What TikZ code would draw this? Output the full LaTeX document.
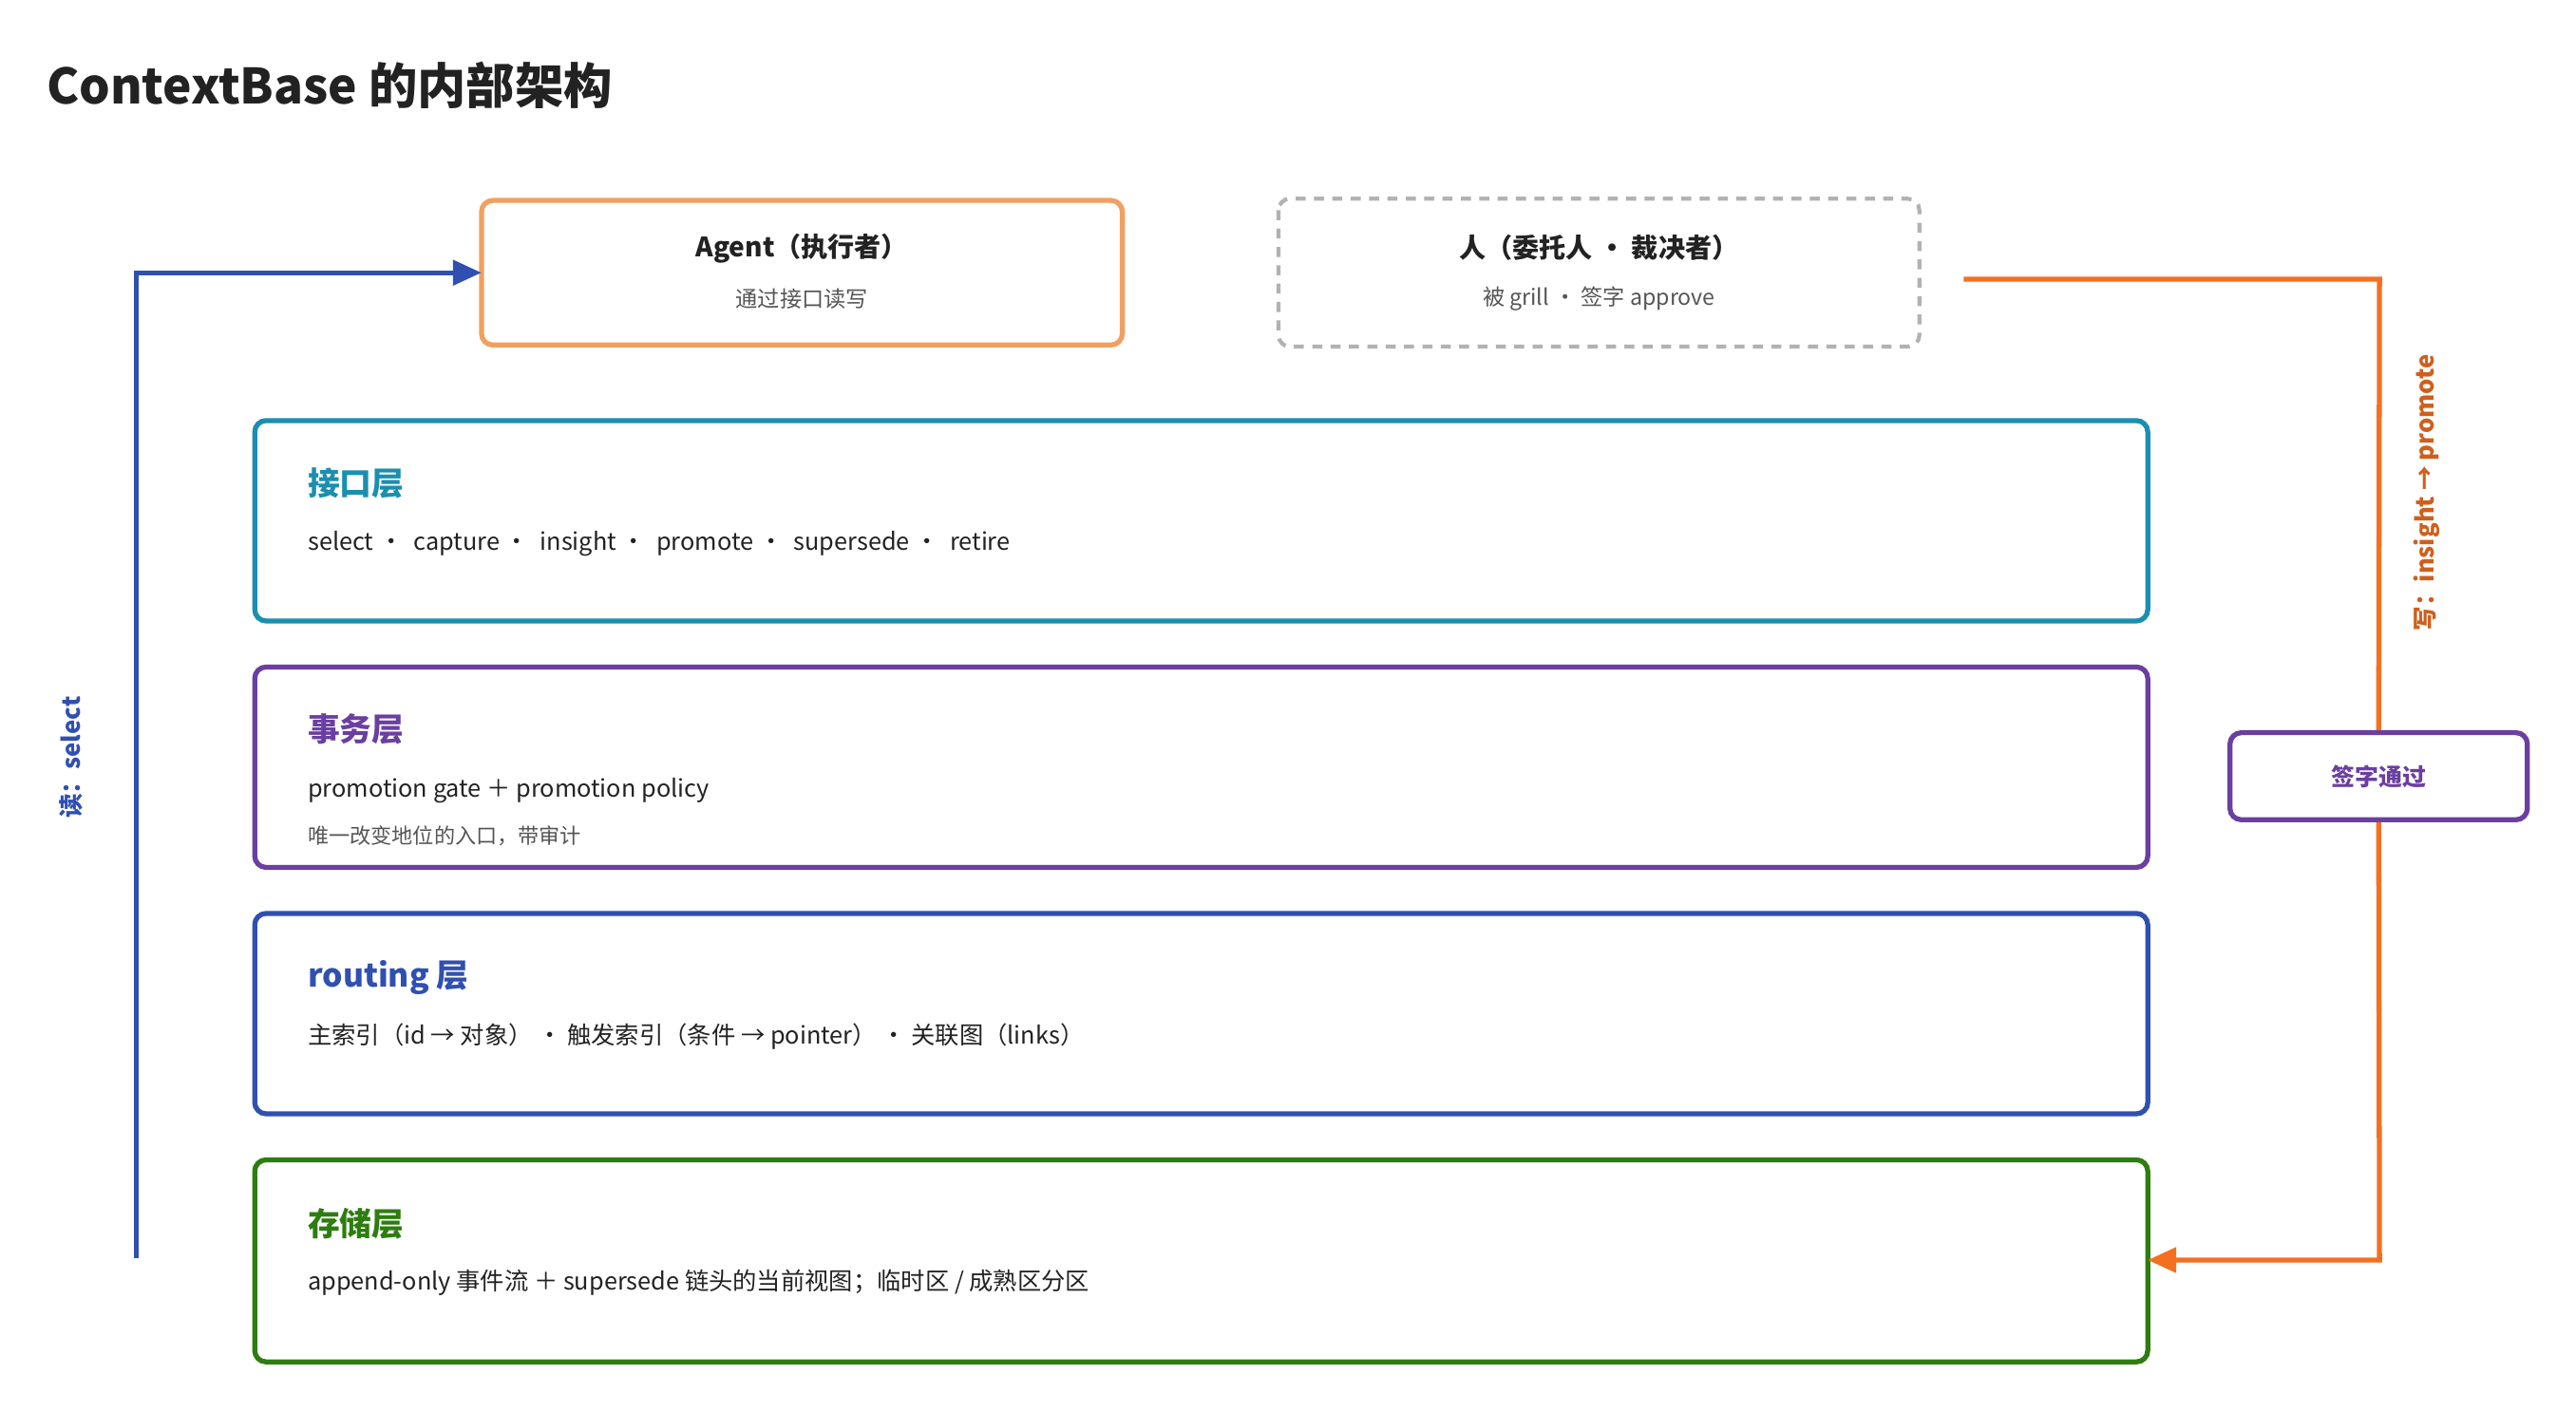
\documentclass[tikz,border=0pt]{standalone}
\usepackage{fontspec}
\setmainfont{Noto Sans CJK SC}
\usetikzlibrary{arrows.meta}
\definecolor{tealc}{HTML}{1A8FB0}
\definecolor{purp}{HTML}{6B3FA0}
\definecolor{bluec}{HTML}{3050B0}
\definecolor{greenc}{HTML}{2E7D10}
\definecolor{orng}{HTML}{F0A060}
\definecolor{orline}{HTML}{F37021}
\definecolor{txt}{HTML}{222222}
\definecolor{sub}{HTML}{555555}
\begin{document}
\begin{tikzpicture}[x=0.1730mm,y=-0.1730mm,
  box/.style={draw,line width=1.5pt,rounded corners=1.2mm,fill=white},
  ltitle/.style={anchor=west,inner sep=0pt,font=\fontsize{9.6}{11}\selectfont\bfseries},
  lbody/.style={anchor=west,inner sep=0pt,font=\fontsize{7.2}{9}\selectfont,text=txt},
  lsub/.style={anchor=west,inner sep=0pt,font=\fontsize{6.3}{8}\selectfont,text=sub},
  arr/.style={line width=1.5pt,-{Triangle[length=3mm,width=2.6mm]}}]
\useasboundingbox (0,0) rectangle (1567.6,859);
\node[anchor=west,inner sep=0pt,font=\fontsize{14.6}{17}\selectfont\bfseries,text=txt] (title) at (28,52) {ContextBase 的内部架构};
% top boxes
\draw[box,draw=orng] (293,122) rectangle (683,210);
\node[font=\fontsize{8}{10}\selectfont\bfseries,text=txt] (ag) at (488,151) {Agent（执行者）};
\node[font=\fontsize{6.6}{8}\selectfont,text=sub] (ags) at (488,182) {通过接口读写};
\coordinate (agin) at (293,166);
\draw[line width=1.2pt,draw=black!30,dash pattern=on 3pt off 2.5pt,rounded corners=1.2mm] (778,121) rectangle (1168,211);
\node[font=\fontsize{8}{10}\selectfont\bfseries,text=txt] (hu) at (973,151) {人（委托人 · 裁决者）};
\node[font=\fontsize{6.6}{8}\selectfont,text=sub] (hus) at (973,182) {被 grill · 签字 approve};
% layers
\draw[box,draw=tealc] (155,256) rectangle (1307,378);
\node[ltitle,text=tealc] (t1) at (187,294) {接口层};
\node[lbody] (b1) at (187,331) {select · \ capture · \ insight · \ promote · \ supersede · \ retire};
\draw[box,draw=purp] (155,406) rectangle (1307,528);
\node[ltitle,text=purp] (t2) at (187,444) {事务层};
\node[lbody] (b2) at (187,481) {promotion gate ＋ promotion policy};
\node[lsub] (s2) at (187,509) {唯一改变地位的入口，带审计};
\draw[box,draw=bluec] (155,556) rectangle (1307,678);
\node[ltitle,text=bluec] (t3) at (187,595) {routing 层};
\node[lbody] (b3) at (187,631) {主索引（id → 对象） · 触发索引（条件 → pointer） · 关联图（links）};
\draw[box,draw=greenc] (155,706) rectangle (1307,829);
\node[ltitle,text=greenc] (t4) at (187,745) {存储层};
\node[lbody] (b4) at (187,781) {append-only 事件流 ＋ supersede 链头的当前视图；临时区 / 成熟区分区};
\coordinate (stin) at (1307,767);
% read path
\coordinate (rd0) at (83,766);
\draw[arr,draw=bluec] (rd0) -- (83,166) -- (agin);
\node[rotate=90,font=\fontsize{7.3}{9}\selectfont\bfseries,text=bluec] (rl) at (43,461) {读：select};
% write path
\node[draw=purp,line width=1.5pt,rounded corners=1.2mm,minimum width=181*0.1730mm,minimum height=53*0.1730mm,font=\fontsize{7.1}{9}\selectfont\bfseries,text=purp] (sig) at (1447.5,472.5) {签字通过};
\coordinate (wr0) at (1195,170);
\draw[line width=1.5pt,draw=orline] (wr0) -- (1448,170) -- (sig.north);
\draw[arr,draw=orline] (sig.south) -- (1448,767) -- (stin);
\node[rotate=90,font=\fontsize{7.3}{9}\selectfont\bfseries,text=orline!85!black] (wl) at (1477,300) {写：insight → promote};
\end{tikzpicture}
\end{document}
